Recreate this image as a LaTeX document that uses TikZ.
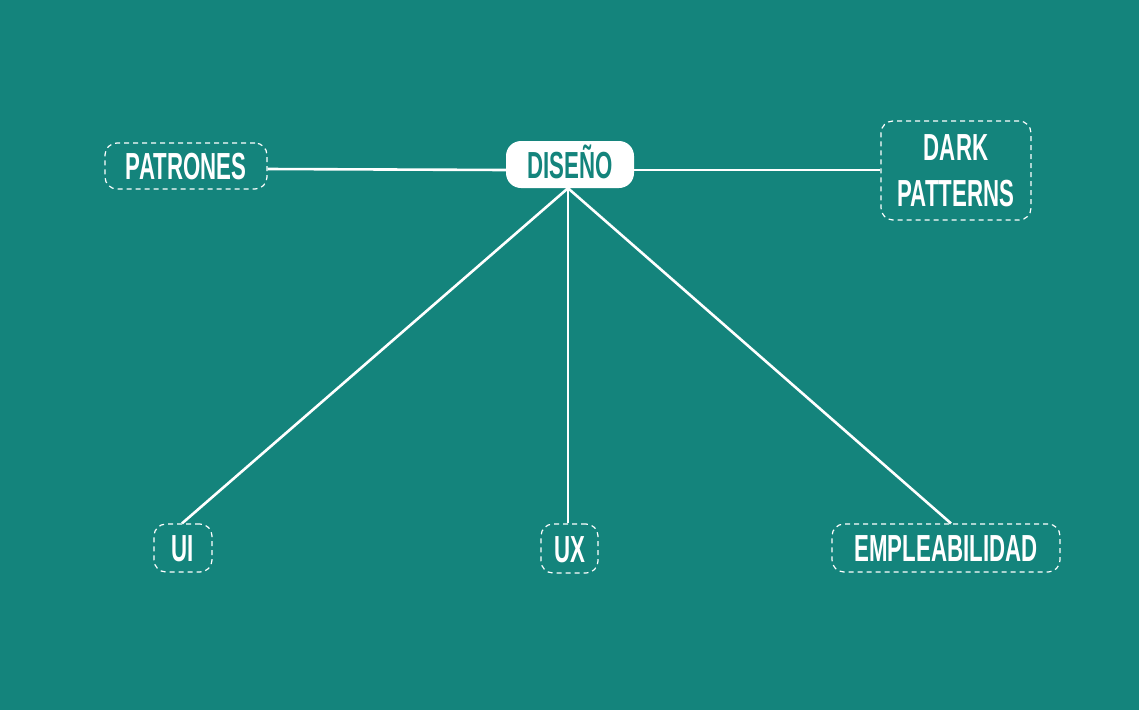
\documentclass[tikz,border=0pt]{standalone}
\usepackage{fontspec}
\newfontfamily\lblfont[FakeStretch=0.59]{Liberation Sans Bold}
\definecolor{bgteal}{RGB}{20,132,124}
\begin{document}
\begin{tikzpicture}[x=1pt,y=-1pt,
  lbl/.style={font=\lblfont\fontsize{37.7}{46}\selectfont, text=white},
  dashbox/.style={lbl, draw=white, line width=1.2pt, dash pattern=on 5pt off 4pt,
    rounded corners=12pt, inner sep=0pt, text height=27pt, text depth=0pt},
  hub/.style={font=\lblfont\fontsize{37.7}{46}\selectfont, text=bgteal, fill=white,
    rounded corners=15pt, inner sep=0pt, text height=27pt, text depth=0pt},
  link/.style={draw=white, line width=2.6pt}]
  \fill[bgteal] (0,0) rectangle (1139,710);
  \useasboundingbox (0,0) rectangle (1139,710);

  \node[hub, minimum width=128pt, minimum height=47pt] (diseno) at (570,164.5) {DISEÑO};
  \node[dashbox, minimum width=162pt, minimum height=46pt] (patrones) at (186,166) {PATRONES};
  \node[dashbox, minimum width=150pt, minimum height=99pt, align=center,
    text height=, text depth=] (dark) at (956,170.5) {DARK\\PATTERNS};
  \node[dashbox, minimum width=58pt, minimum height=48pt] (ui) at (183,548) {UI};
  \node[dashbox, minimum width=57pt, minimum height=49pt] (ux) at (569.5,548.5) {UX};
  \node[dashbox, minimum width=228pt, minimum height=48pt] (emp) at (946,548) {EMPLEABILIDAD};

  \coordinate (root) at ([xshift=-2pt]diseno.south);
  \draw[link] ([yshift=-3pt]patrones.east) -- ([yshift=-5.5pt]diseno.west);
  \draw[link] ([yshift=-5.5pt]diseno.east) -- ([yshift=0.5pt]dark.west);
  \draw[link] (root) -- ([xshift=-1pt]ui.north);
  \draw[link] (root) -- ([xshift=-1.5pt]ux.north);
  \draw[link] (root) -- ([xshift=5pt]emp.north);
\end{tikzpicture}
\end{document}
